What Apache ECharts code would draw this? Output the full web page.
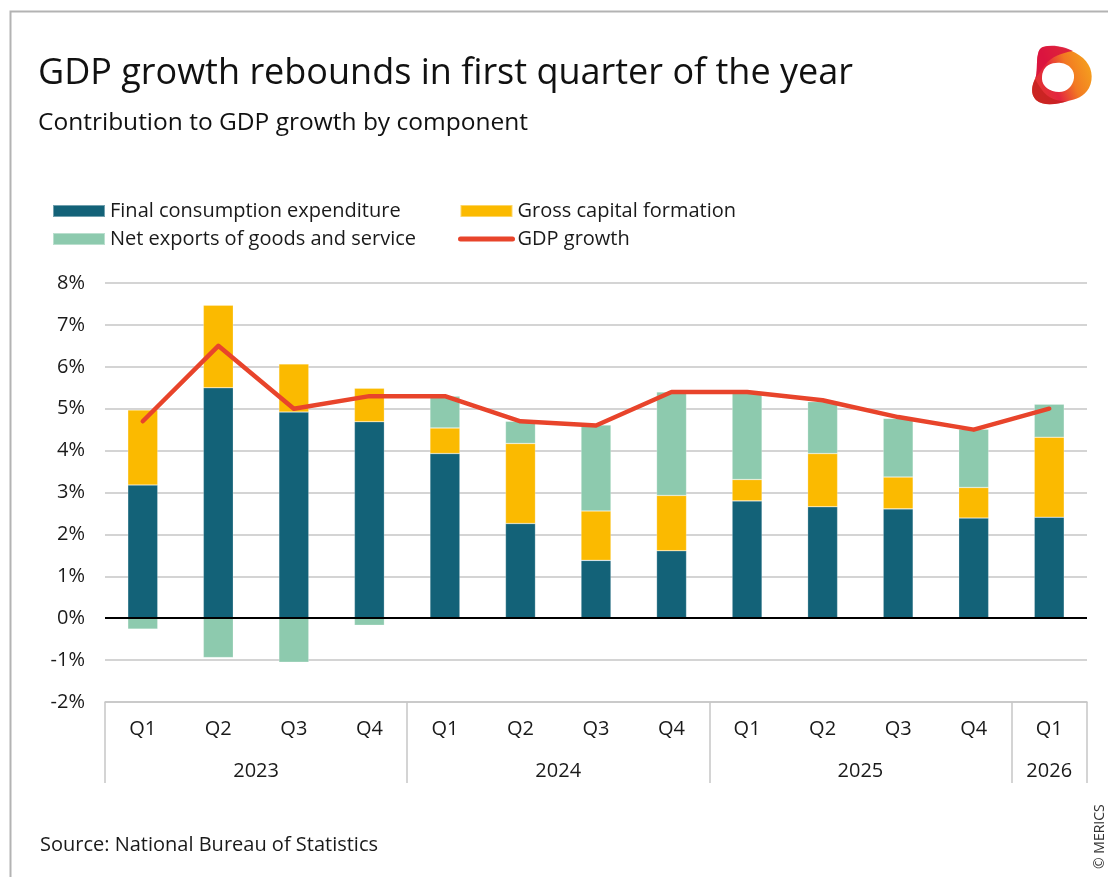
<!DOCTYPE html>
<html>
<head>
<meta charset="utf-8">
<title>GDP growth rebounds in first quarter of the year</title>
<script src="https://cdn.jsdelivr.net/npm/echarts@6/dist/echarts.min.js"></script>
<style>
  html, body { margin: 0; padding: 0; background: #ffffff; }
  #chart { width: 1108px; height: 877px; }
</style>
</head>
<body>
<div id="chart"></div>
<script>
// Quarterly contributions to GDP growth, percentage points
const quarters = ['Q1', 'Q2', 'Q3', 'Q4', 'Q1', 'Q2', 'Q3', 'Q4', 'Q1', 'Q2', 'Q3', 'Q4', 'Q1'];
const years = ['2023', '2024', '2025', '2026'];
const quartersPerYear = [4, 4, 4, 1];

const consumption = [3.18, 5.50, 4.92, 4.69, 3.93, 2.26, 1.38, 1.61, 2.80, 2.66, 2.61, 2.39, 2.41];
const capitalFormation = [1.79, 1.97, 1.15, 0.80, 0.61, 1.91, 1.18, 1.32, 0.51, 1.27, 0.76, 0.73, 1.91];
const netExports = [-0.26, -0.94, -1.05, -0.17, 0.76, 0.53, 2.05, 2.47, 2.06, 1.24, 1.40, 1.39, 0.79];
const gdpGrowth = [4.7, 6.5, 5.0, 5.3, 5.3, 4.7, 4.6, 5.4, 5.4, 5.2, 4.8, 4.5, 5.0];

const yTicks = { min: -2, max: 8, step: 1 };

// Year group boundaries and centres along the quarter scale
const yearEdges = [0];
quartersPerYear.forEach(n => yearEdges.push(yearEdges[yearEdges.length - 1] + n));
const yearCentres = quartersPerYear.map((n, i) => yearEdges[i] + n / 2);

const FONT = '"Open Sans", Roboto, sans-serif';
const TEXT = '#1a1a1a';
const C_CONS = '#136278';
const C_CAP = '#FBBA00';
const C_NX = '#8DCAAE';
const C_GDP = '#E8442B';
const GRID = '#c6c6c6';

const barBorder = { borderColor: 'rgba(255,255,255,0.4)', borderWidth: 0.6 };

// Logo outline shapes
echarts.graphic.registerShape('logoOuter', echarts.graphic.extendPath(
  'M12 2 C22 -1 40 3 52 13 C61 21 63 33 58 43 C53 52 45 54 37 56 C27 59 13 62 5 55 C-1 49 1 40 4 34 C7 28 5 17 7 9 C8 5 9 3 12 2 Z'
));
echarts.graphic.registerShape('logoTop', echarts.graphic.extendPath(
  'M7 9 C8 5 9 3 12 2 C22 -1 34 2 42 6 C30 8 20 12 14 20 C10 25 7 30 4 34 C7 28 5 17 7 9 Z'
));
echarts.graphic.registerShape('logoBottom', echarts.graphic.extendPath(
  'M4 34 C1 40 -1 49 5 55 C13 62 27 59 37 56 C28 57 17 54 11 45 C8 41 6 37 4 34 Z'
));
echarts.graphic.registerShape('logoHole', echarts.graphic.extendPath(
  'M12 27 C14 20 22 17 30 18 C38 19 44 25 43 33 C42 41 36 47 28 47 C19 47 11 41 11 34 C11 31 11 29 12 27 Z'
));

const chart = echarts.init(document.getElementById('chart'), null, { renderer: 'canvas' });

chart.setOption({
  backgroundColor: '#ffffff',
  animation: false,
  textStyle: { fontFamily: FONT },
  title: {
    left: 38,
    top: 51,
    padding: 0,
    text: 'GDP growth rebounds in first quarter of the year',
    subtext: 'Contribution to GDP growth by component',
    itemGap: 12,
    textStyle: { fontFamily: FONT, fontSize: 36, fontWeight: 'normal', color: '#111', lineHeight: 46 },
    subtextStyle: { fontFamily: FONT, fontSize: 24.5, color: '#111', lineHeight: 28 }
  },
  legend: [
    {
      orient: 'vertical',
      left: 52,
      top: 199,
      padding: 0,
      itemWidth: 52,
      itemHeight: 12,
      itemGap: 4,
      selectedMode: false,
      data: [
        { name: 'Final consumption expenditure', icon: 'rect' },
        { name: 'Net exports of goods and service', icon: 'rect' }
      ],
      textStyle: { fontFamily: FONT, fontSize: 20, color: TEXT, lineHeight: 24 }
    },
    {
      orient: 'vertical',
      left: 458,
      top: 199,
      padding: 0,
      itemWidth: 52,
      itemHeight: 12,
      itemGap: 4,
      selectedMode: false,
      data: [
        { name: 'Gross capital formation', icon: 'rect' },
        {
          name: 'GDP growth',
          itemStyle: { opacity: 0 },
          lineStyle: { color: C_GDP, width: 5, cap: 'round' }
        }
      ],
      textStyle: { fontFamily: FONT, fontSize: 20, color: TEXT, lineHeight: 24 }
    }
  ],
  grid: { left: 105, right: 21, top: 283, bottom: 175, containLabel: false },
  xAxis: [
    {
      type: 'category',
      data: quarters,
      position: 'bottom',
      axisLine: { onZero: false, lineStyle: { color: GRID, width: 1.5 } },
      axisTick: { show: false },
      axisLabel: { fontFamily: FONT, fontSize: 20, color: TEXT, margin: 17, interval: 0 }
    },
    {
      // Year grouping row beneath the quarter labels
      type: 'value',
      min: 0,
      max: quarters.length,
      position: 'bottom',
      axisLine: { show: false, onZero: false },
      splitLine: { show: false },
      axisTick: {
        show: true,
        inside: false,
        customValues: yearEdges,
        length: 81,
        lineStyle: { color: GRID, width: 1.5 }
      },
      axisLabel: {
        customValues: yearCentres,
        fontFamily: FONT,
        fontSize: 20,
        color: TEXT,
        margin: 59,
        formatter: v => years[yearCentres.indexOf(v)] || ''
      }
    }
  ],
  yAxis: {
    type: 'value',
    min: yTicks.min,
    max: yTicks.max,
    interval: yTicks.step,
    axisLine: { show: false },
    axisTick: { show: false },
    splitLine: { lineStyle: { color: GRID, width: 1.5 } },
    axisLabel: { fontFamily: FONT, fontSize: 20, color: TEXT, margin: 20, formatter: '{value}%' }
  },
  series: [
    {
      name: 'Final consumption expenditure',
      type: 'bar',
      stack: 'gdp',
      barWidth: 30,
      data: consumption,
      itemStyle: Object.assign({ color: C_CONS }, barBorder),
      markLine: {
        silent: true,
        symbol: 'none',
        label: { show: false },
        lineStyle: { color: '#000', width: 2, type: 'solid' },
        data: [{ yAxis: 0 }],
        z: 5
      }
    },
    {
      name: 'Gross capital formation',
      type: 'bar',
      stack: 'gdp',
      barWidth: 30,
      data: capitalFormation,
      itemStyle: Object.assign({ color: C_CAP }, barBorder)
    },
    {
      name: 'Net exports of goods and service',
      type: 'bar',
      stack: 'gdp',
      barWidth: 30,
      data: netExports,
      itemStyle: Object.assign({ color: C_NX }, barBorder)
    },
    {
      name: 'GDP growth',
      type: 'line',
      data: gdpGrowth,
      symbol: 'none',
      z: 10,
      color: C_GDP,
      lineStyle: { color: C_GDP, width: 4.5, cap: 'round', join: 'round' },
      itemStyle: { color: C_GDP }
    }
  ],
  graphic: [
    {
      // Page frame along the top and left
      type: 'polyline',
      silent: true,
      shape: { points: [[10.5, 877], [10.5, 11.5], [1108, 11.5]] },
      style: { stroke: '#b3b3b3', lineWidth: 2, fill: null }
    },
    {
      type: 'text',
      x: 40,
      y: 835,
      style: { text: 'Source: National Bureau of Statistics', font: '20px ' + FONT, fill: TEXT }
    },
    {
      type: 'text',
      x: 1093,
      y: 869,
      rotation: Math.PI / 2,
      style: { text: '© MERICS', font: '14px ' + FONT, fill: '#333', textAlign: 'left', textVerticalAlign: 'top' }
    },
    {
      // Logo mark
      type: 'group',
      x: 1031,
      y: 45,
      children: [
        {
          type: 'logoOuter',
          style: {
            fill: new echarts.graphic.LinearGradient(1, 0.35, 0, 0.75, [
              { offset: 0, color: '#F5A11E' },
              { offset: 0.35, color: '#F27A22' },
              { offset: 0.65, color: '#E3243F' },
              { offset: 1, color: '#E23A2C' }
            ])
          }
        },
        { type: 'logoTop', style: { fill: '#D9123F', opacity: 0.85 } },
        { type: 'logoBottom', style: { fill: '#C4201F', opacity: 0.8 } },
        { type: 'logoHole', style: { fill: '#ffffff' } }
      ]
    }
  ]
});
</script>
</body>
</html>
